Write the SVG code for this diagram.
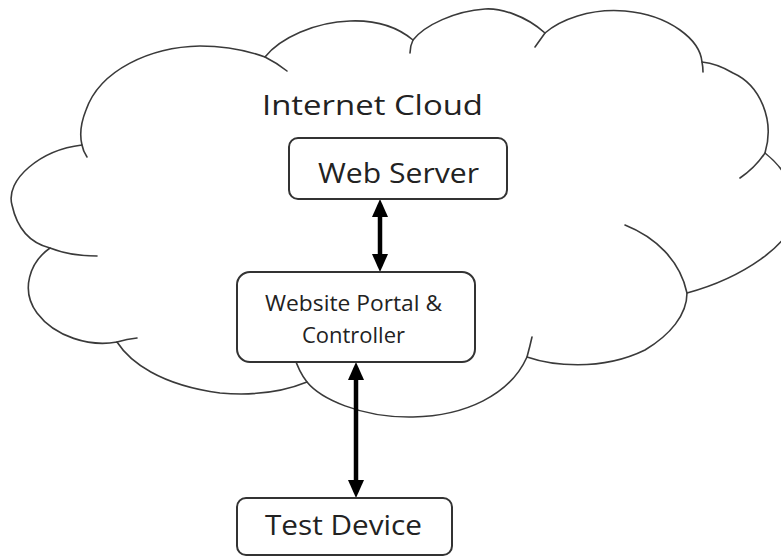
<svg xmlns="http://www.w3.org/2000/svg" width="781" height="557" viewBox="0 0 781 557">
<style>
.cloud{fill:#fff;stroke:#3a3a3a;stroke-width:1.6;stroke-linejoin:round}
.tick{fill:none;stroke:#3a3a3a;stroke-width:1.6;stroke-linecap:round}
.box{fill:#fff;stroke:#333;stroke-width:2}
.lbl{font-family:"Open Sans","Noto Sans",sans-serif;fill:#222}
.big{font-size:28px}
.mid{font-size:27px}
.small{font-size:22px}
.arr{stroke:#000;stroke-width:4.5;fill:none;marker-start:url(#ah);marker-end:url(#ah)}
</style>
<defs>
<marker id="ah" viewBox="0 0 18 16" markerWidth="18" markerHeight="16" markerUnits="userSpaceOnUse" refX="12" refY="8" orient="auto-start-reverse">
<path d="M0,0 L18,8 L0,16 z" fill="#000"/>
</marker>
</defs>
<g id="cloud">
<path class="cloud" d="M82,145 C40,150 5,180 12,205 C17,228 30,243 50,248 C30,262 20,290 37,313 C55,337 90,347 117,342 C130,362 160,385 220,393 C255,396 285,391 307,382 C320,398 360,418 413,417 C465,416 510,395 527,357 C550,365 600,372 645,350 C670,335 687,315 687,293 C735,280 800,245 795,205 C792,180 780,165 765,153 C775,120 760,85 733,73 C723,67 712,63 702,62 C700,40 670,15 625,11 C590,8 560,20 545,33 C525,15 500,8 485,9 C455,11 425,25 413,40 C395,25 375,20 350,21 C315,22 280,38 265,57 C240,48 220,46 200,46 C150,47 100,70 86,110 C80,125 80,137 82,145 Z"/>
<path class="tick" d="M50,248 Q70,256 97,256"/>
<path class="tick" d="M82,145 Q83,151 87,157"/>
<path class="tick" d="M265,57 Q277,63 287,71"/>
<path class="tick" d="M413,40 Q410,46 410,53"/>
<path class="tick" d="M545,33 Q540,40 535,47"/>
<path class="tick" d="M702,62 Q703,67 703,72"/>
<path class="tick" d="M765,153 Q755,168 740,178"/>
<path class="tick" d="M625,225 C655,237 680,260 687,293"/>
<path class="tick" d="M527,357 Q530,346 532,337"/>
<path class="tick" d="M294,356 Q299,372 307,382"/>
<path class="tick" d="M117,342 Q127,339 137,338"/>
<text class="lbl big" x="262" y="115" textLength="221" lengthAdjust="spacingAndGlyphs">Internet Cloud</text>
</g>
<g id="connectors">
<line class="arr" x1="380" y1="205" x2="380" y2="266"/>
<line class="arr" x1="356" y1="368" x2="356" y2="492"/>
</g>
<g id="web-server">
<rect class="box" x="289" y="138" width="218" height="61" rx="9"/>
<text class="lbl big" x="318" y="183" textLength="161" lengthAdjust="spacingAndGlyphs">Web Server</text>
</g>
<g id="portal">
<rect class="box" x="237" y="272" width="238" height="90" rx="13"/>
<text class="lbl small" x="265" y="311" textLength="177" lengthAdjust="spacingAndGlyphs">Website Portal &amp;</text>
<text class="lbl small" x="302" y="343" textLength="103" lengthAdjust="spacingAndGlyphs">Controller</text>
</g>
<g id="test-device">
<rect class="box" x="237" y="498" width="215" height="57" rx="9"/>
<text class="lbl mid" x="265" y="535" textLength="157" lengthAdjust="spacingAndGlyphs">Test Device</text>
</g>
</svg>
